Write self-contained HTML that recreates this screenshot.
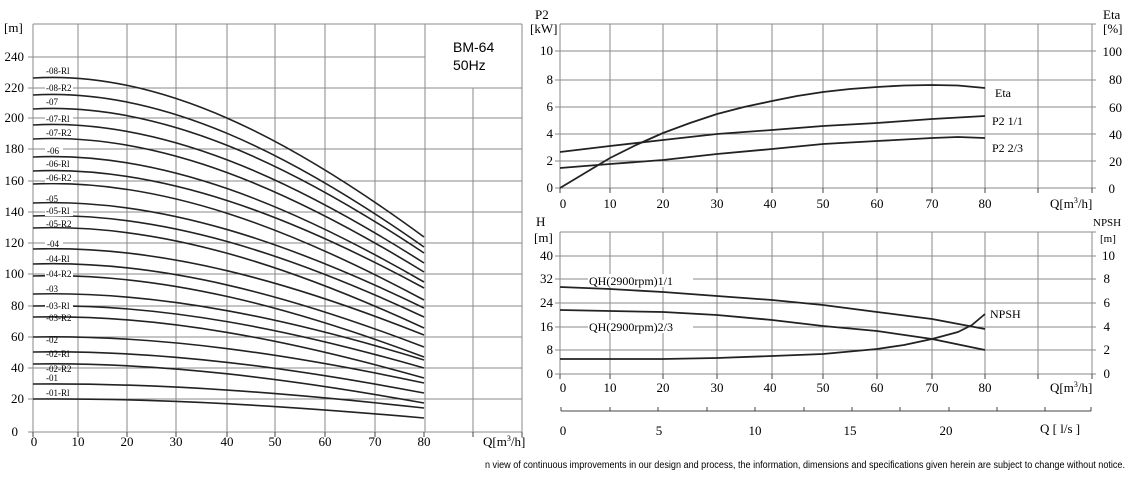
<!DOCTYPE html>
<html><head><meta charset="utf-8"><style>
html,body{margin:0;padding:0;background:#fff;}
svg{display:block;font-family:"Liberation Serif",serif;}
</style></head><body>
<svg width="1129" height="485" viewBox="0 0 1129 485" xmlns="http://www.w3.org/2000/svg">
<!-- LEFT CHART grid -->
<g stroke="#8a8a8a" stroke-width="1" fill="none">
<path d="M33,24V432 M78,24V432 M127,24V432 M176,24V432 M227,24V432 M275,24V432 M325,24V432 M375,24V432 M425,24V432 M473,88V432 M522,24V432"/>
<path d="M33,24H522 M28,57H425 M28,88H522 M28,118H522 M28,149H522 M28,181H522 M28,212H522 M28,243H522 M28,274H522 M28,306H522 M28,337H522 M28,368H522 M28,399H522 M28,432H522"/>
</g>
<g stroke="#444" stroke-width="1"><path d="M33,432V437 M78,432V437 M127,432V437 M176,432V437 M227,432V437 M275,432V437 M325,432V437 M375,432V437 M424,432V437 M473,432V437 M522,432V437"/></g>
<text x="453" y="52" font-family="Liberation Sans,sans-serif" font-size="14">BM-64</text>
<text x="453" y="70" font-family="Liberation Sans,sans-serif" font-size="14">50Hz</text>
<g font-size="13" text-anchor="end">
<text x="24" y="61">240</text><text x="24" y="92">220</text><text x="24" y="122">200</text><text x="24" y="153">180</text><text x="24" y="185">160</text><text x="24" y="216">140</text><text x="24" y="247">120</text><text x="24" y="278">100</text><text x="24" y="310">80</text><text x="24" y="341">60</text><text x="24" y="372">40</text><text x="24" y="403">20</text><text x="18" y="436">0</text>
</g>
<text x="4" y="32" font-size="13">[m]</text>
<g font-size="13" text-anchor="middle">
<text x="34" y="446">0</text><text x="78" y="446">10</text><text x="127" y="446">20</text><text x="176" y="446">30</text><text x="227" y="446">40</text><text x="275" y="446">50</text><text x="325" y="446">60</text><text x="375" y="446">70</text><text x="424" y="446">80</text>
</g>
<text x="483" y="446" font-size="13">Q[m<tspan font-size="8" dy="-5">3</tspan><tspan dy="5">/h]</tspan></text>
<!-- left curves -->
<g stroke="#222" stroke-width="1.6" fill="none">
<path d="M33,78C163,70 294,141.6 424,237"/>
<path d="M33,95C163,87.4 294,155.8 424,247"/>
<path d="M33,109C163,101.8 294,166.6 424,253"/>
<path d="M33,125C163,118.1 294,180.2 424,263"/>
<path d="M33,139C163,132.4 294,192.2 424,272"/>
<path d="M33,157C163,150.8 294,207 424,282"/>
<path d="M33,171C163,165.2 294,217.8 424,288"/>
<path d="M33,184C163,178.2 294,230.4 424,300"/>
<path d="M33,203C163,197.8 294,245 424,308"/>
<path d="M33,216C163,211 294,256.4 424,317"/>
<path d="M33,228C163,223 294,268 424,328"/>
<path d="M33,249C163,244.7 294,283.4 424,335"/>
<path d="M33,264C163,259.9 294,297.2 424,347"/>
<path d="M33,276C163,272 294,308.4 424,357"/>
<path d="M33,294C163,290.7 294,320.4 424,360"/>
<path d="M33,306C163,302.9 294,330.8 424,368"/>
<path d="M33,317C163,314 294,341.4 424,378"/>
<path d="M33,337C163,334.7 294,355.4 424,383"/>
<path d="M33,352C163,350 294,368.4 424,393"/>
<path d="M33,364C163,362 294,379.6 424,403"/>
<path d="M33,384C163,382.8 294,393.6 424,408"/>
<path d="M33,399C163,398 294,406.6 424,418"/>
</g>
<g font-size="9">
<text x="46" y="74">-08-Rl</text>
<rect x="45" y="83" width="28" height="9" fill="#fff"/><text x="46" y="91">-08-R2</text>
<text x="46" y="105">-07</text>
<rect x="45" y="114" width="28" height="9" fill="#fff"/><text x="46" y="122">-07-Rl</text>
<text x="46" y="136">-07-R2</text>
<rect x="45" y="146" width="18" height="9" fill="#fff"/><text x="47" y="154">-06</text>
<text x="46" y="167">-06-Rl</text>
<rect x="45" y="174" width="28" height="9" fill="#fff"/><text x="46" y="181">-06-R2</text>
<text x="46" y="202">-05</text>
<rect x="45" y="207" width="28" height="9" fill="#fff"/><text x="46" y="214">-05-Rl</text>
<text x="46" y="227">-05-R2</text>
<rect x="45" y="239" width="18" height="9" fill="#fff"/><text x="47" y="247">-04</text>
<text x="46" y="262">-04-Rl</text>
<rect x="45" y="270" width="28" height="9" fill="#fff"/><text x="46" y="277">-04-R2</text>
<text x="46" y="292">-03</text>
<rect x="45" y="302" width="28" height="9" fill="#fff"/><text x="46" y="309">-03-Rl</text>
<text x="46" y="321">-03-R2</text>
<text x="46" y="343">-02</text>
<text x="46" y="357">-02-Rl</text>
<text x="46" y="372">-02-R2</text>
<text x="46" y="381">-01</text>
<text x="46" y="396">-01-Rl</text>
</g>

<!-- RIGHT CHARTS -->
<g stroke="#8a8a8a" fill="none">
<path d="M560,24V188 M610,24V188 M663,24V188 M717,24V188 M772,24V188 M823,24V188 M877,24V188 M932,24V188 M985,24V188 M1038,24V188 M1092,24V188"/>
<path d="M560,24H1096 M555,51H1096 M555,80H1096 M555,107H1096 M555,134H1096 M555,161H1096 M555,188H1096"/>
<path d="M560,232V374 M610,232V374 M663,232V374 M717,232V374 M772,232V374 M823,232V374 M877,232V374 M932,232V374 M985,232V374 M1038,232V374 M1092,232V374"/>
<path d="M560,232H1096 M555,256H1096 M555,279H1096 M555,303H1096 M555,327H1096 M555,350H1096 M555,374H1096"/>
</g>
<g stroke="#444"><path d="M560,188V193 M610,188V193 M663,188V193 M717,188V193 M772,188V193 M823,188V193 M877,188V193 M932,188V193 M985,188V193 M1038,188V193 M1092,188V193 M560,374V379 M610,374V379 M663,374V379 M717,374V379 M772,374V379 M823,374V379 M877,374V379 M932,374V379 M985,374V379 M1038,374V379 M1092,374V379"/>
<path d="M561,411H1091 M561,407V411 M610,407V411 M658,407V411 M707,407V411 M755,407V411 M804,407V411 M852,407V411 M900,407V411 M949,407V411 M997,407V411 M1045,407V411 M1091,407V411"/></g>
<g font-size="13" text-anchor="end">
<text x="553" y="55">10</text><text x="553" y="84">8</text><text x="553" y="111">6</text><text x="553" y="138">4</text><text x="553" y="165">2</text><text x="553" y="192">0</text>
<text x="553" y="260">40</text><text x="553" y="283">32</text><text x="553" y="307">24</text><text x="553" y="331">16</text><text x="553" y="354">8</text><text x="553" y="378">0</text>
</g>
<g font-size="13" text-anchor="end">
<text x="1122" y="56">100</text><text x="1122" y="84">80</text><text x="1122" y="112">60</text><text x="1122" y="139">40</text><text x="1122" y="166">20</text><text x="1115" y="193">0</text>
<text x="1115" y="260">10</text><text x="1110" y="283">8</text><text x="1110" y="307">6</text><text x="1110" y="331">4</text><text x="1110" y="354">2</text><text x="1110" y="378">0</text>
</g>
<text x="535" y="19" font-size="13">P2</text><text x="530" y="33" font-size="13">[kW]</text>
<text x="1103" y="19" font-size="13">Eta</text><text x="1103" y="33" font-size="13">[%]</text>
<text x="536" y="226" font-size="13">H</text><text x="534" y="242" font-size="13">[m]</text>
<text x="1093" y="226" font-size="11">NPSH</text><text x="1100" y="242" font-size="11">[m]</text>
<g font-size="13" text-anchor="middle">
<text x="563" y="208">0</text><text x="610" y="208">10</text><text x="663" y="208">20</text><text x="717" y="208">30</text><text x="770" y="208">40</text><text x="823" y="208">50</text><text x="877" y="208">60</text><text x="932" y="208">70</text><text x="985" y="208">80</text>
<text x="563" y="392">0</text><text x="610" y="392">10</text><text x="663" y="392">20</text><text x="717" y="392">30</text><text x="770" y="392">40</text><text x="823" y="392">50</text><text x="877" y="392">60</text><text x="932" y="392">70</text><text x="985" y="392">80</text>
<text x="563" y="435">0</text><text x="659" y="435">5</text><text x="755" y="435">10</text><text x="850" y="435">15</text><text x="946" y="435">20</text>
</g>
<text x="1050" y="208" font-size="13">Q[m<tspan font-size="8" dy="-5">3</tspan><tspan dy="5">/h]</tspan></text>
<text x="1050" y="392" font-size="13">Q[m<tspan font-size="8" dy="-5">3</tspan><tspan dy="5">/h]</tspan></text>
<text x="1040" y="433" font-size="13">Q  [  l/s  ]</text>
<g stroke="#222" stroke-width="1.8" fill="none" stroke-linejoin="round">
<polyline points="560,188 585,173 610,158 636,145 663,133 690,123 717,114 744,107 772,101 797,96 823,92 850,89 877,87 904,85.5 932,85 958,85.5 985,88"/>
<polyline points="560,152 610,146 663,140 717,134 772,130 823,126 877,123 932,119 985,116"/>
<polyline points="560,168 610,164 663,160 717,154 772,149 823,144 877,141 932,138 958,137 985,138"/>
<polyline points="560,287 610,289 663,292 717,296 772,300 823,305 877,312 932,319 985,329"/>
<polyline points="560,310 610,311 663,312 717,315 772,320 823,326 877,331 932,339 985,350"/>
<polyline points="560,359 610,359 663,359 717,358 772,356 823,354 877,349 904,345 932,339 958,332 972,325 985,314"/>
</g>
<g font-size="12">
<text x="995" y="97">Eta</text>
<text x="992" y="125">P2  1/1</text>
<text x="992" y="152">P2  2/3</text>
<text x="990" y="318">NPSH</text>
<rect x="588" y="274" width="105" height="13" fill="#fff"/>
<text x="589" y="285">QH(2900rpm)1/1</text>
<rect x="588" y="320" width="105" height="13" fill="#fff"/>
<text x="589" y="331">QH(2900rpm)2/3</text>
</g>
<text x="485" y="468" font-family="Liberation Sans,sans-serif" font-size="10" textLength="640" lengthAdjust="spacingAndGlyphs">n view of continuous improvements in our design and process, the information, dimensions and specifications given herein are subject to change without notice.</text>
</svg>
</body></html>
